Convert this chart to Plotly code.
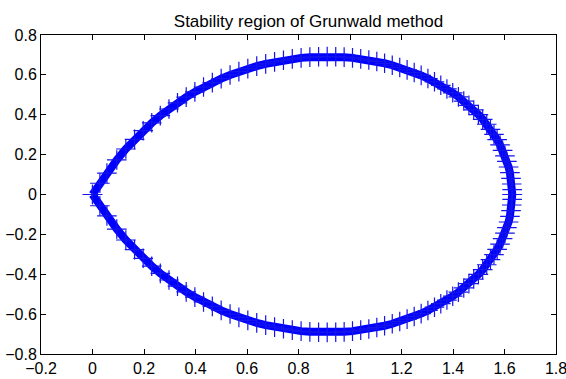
import plotly.graph_objects as go

# Upper half of the boundary
x_upper = [0.0, 0.0287, 0.0560, 0.0943, 0.1295, 0.1634, 0.1968, 0.2300, 0.2633, 0.2970,
           0.3301, 0.3639, 0.3975, 0.4312, 0.4654, 0.4997, 0.5342, 0.5685, 0.6032, 0.6378,
           0.6726, 0.7071, 0.7416, 0.7759, 0.8101, 0.8441, 0.8780, 0.9114, 0.9446, 0.9773,
           1.0097, 1.0416, 1.0731, 1.1041, 1.1343, 1.1641, 1.1932, 1.2218, 1.2493, 1.2764,
           1.3026, 1.3281, 1.3526, 1.3764, 1.3990, 1.4209, 1.4418, 1.4618, 1.4806, 1.4986,
           1.5153, 1.5310, 1.5455, 1.5591, 1.5714, 1.5827, 1.5927, 1.6018, 1.6092, 1.6159,
           1.6211, 1.6253, 1.6281, 1.6297, 1.6302]
y_upper = [0.0, 0.0565, 0.1073, 0.1732, 0.2281, 0.2765, 0.3199, 0.3595, 0.3957, 0.4289,
           0.4599, 0.4884, 0.5146, 0.5390, 0.5610, 0.5812, 0.5996, 0.6163, 0.6311, 0.6440,
           0.6554, 0.6651, 0.6735, 0.6802, 0.6853, 0.6888, 0.6909, 0.6916, 0.6909, 0.6888,
           0.6853, 0.6805, 0.6743, 0.6670, 0.6581, 0.6484, 0.6371, 0.6249, 0.6117, 0.5974,
           0.5818, 0.5652, 0.5478, 0.5294, 0.5100, 0.4897, 0.4686, 0.4470, 0.4242, 0.4009,
           0.3769, 0.3524, 0.3270, 0.3012, 0.2750, 0.2485, 0.2213, 0.1938, 0.1660, 0.1380,
           0.1095, 0.0812, 0.0526, 0.0240, 0.0]

# Lower half of the boundary
x_lower = [1.6302, 1.6297, 1.6281, 1.6253, 1.6211, 1.6159, 1.6092, 1.6018, 1.5927, 1.5827,
           1.5714, 1.5591, 1.5455, 1.5310, 1.5153, 1.4986, 1.4806, 1.4618, 1.4418, 1.4209,
           1.3990, 1.3764, 1.3526, 1.3281, 1.3026, 1.2764, 1.2493, 1.2218, 1.1932, 1.1641,
           1.1343, 1.1041, 1.0731, 1.0416, 1.0097, 0.9773, 0.9446, 0.9114, 0.8780, 0.8441,
           0.8101, 0.7759, 0.7416, 0.7071, 0.6726, 0.6378, 0.6032, 0.5685, 0.5342, 0.4997,
           0.4654, 0.4312, 0.3975, 0.3639, 0.3301, 0.2970, 0.2633, 0.2300, 0.1968, 0.1634,
           0.1295, 0.0943, 0.0560, 0.0287, 0.0]
y_lower = [0.0, -0.0240, -0.0526, -0.0812, -0.1095, -0.1380, -0.1660, -0.1938, -0.2213, -0.2485,
           -0.2750, -0.3012, -0.3270, -0.3524, -0.3769, -0.4009, -0.4242, -0.4470, -0.4686, -0.4897,
           -0.5100, -0.5294, -0.5478, -0.5652, -0.5818, -0.5974, -0.6117, -0.6249, -0.6371, -0.6484,
           -0.6581, -0.6670, -0.6743, -0.6805, -0.6853, -0.6888, -0.6909, -0.6916, -0.6909, -0.6888,
           -0.6853, -0.6802, -0.6735, -0.6651, -0.6554, -0.6440, -0.6311, -0.6163, -0.5996, -0.5812,
           -0.5610, -0.5390, -0.5146, -0.4884, -0.4599, -0.4289, -0.3957, -0.3595, -0.3199, -0.2765,
           -0.2281, -0.1732, -0.1073, -0.0565, 0.0]

title_text = "Stability region of Grunwald method"
x_ticks = [-0.2, 0, 0.2, 0.4, 0.6, 0.8, 1, 1.2, 1.4, 1.6, 1.8]
y_ticks = [-0.8, -0.6, -0.4, -0.2, 0, 0.2, 0.4, 0.6, 0.8]

fig = go.Figure()
for xs, ys in [(x_upper, y_upper), (x_lower, y_lower)]:
    fig.add_trace(go.Scatter(
        x=xs, y=ys, mode="lines+markers",
        line=dict(color="rgb(0,0,255)", width=8),
        marker=dict(symbol="cross-thin", size=14, line=dict(color="rgb(20,20,235)", width=1.2)),
        showlegend=False, hoverinfo="skip"))

font_family = "Liberation Sans, Arial"
axis_common = dict(showgrid=False, zeroline=False, showline=True, mirror="allticks",
                   linecolor="black", linewidth=1, ticks="inside", ticklen=5,
                   automargin=False, ticklabeloverflow="allow",
                   tickcolor="black", tickfont=dict(family=font_family, size=16, color="black"))
fig.update_xaxes(range=[-0.2, 1.8], tickvals=x_ticks,
                 ticktext=[("%g" % v).replace("-", "\u2212") for v in x_ticks], **axis_common)
fig.update_yaxes(range=[-0.8, 0.8], tickvals=y_ticks,
                 ticktext=[("%g" % v).replace("-", "\u2212") for v in y_ticks], **axis_common)

fig.update_layout(
    width=566, height=379,
    margin=dict(l=41, r=10, t=35, b=25),
    paper_bgcolor="white", plot_bgcolor="white",
    title=dict(text=title_text, x=0.545, xanchor="center", y=1 - 21 / 379, yanchor="middle",
               yref="container", font=dict(family=font_family, size=17, color="black")),
)
fig.write_html("out.html")
